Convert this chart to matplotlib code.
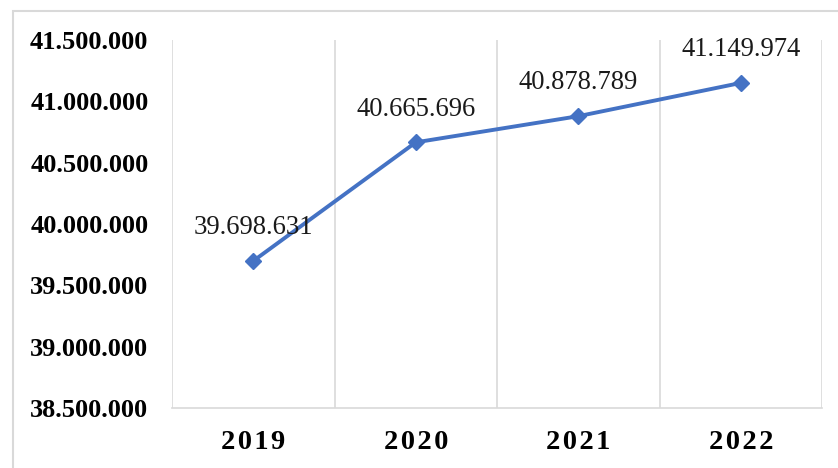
import matplotlib as mpl
mpl.use('Agg')
import matplotlib.pyplot as plt  # NOQA
from matplotlib.patches import Rectangle  # NOQA
from matplotlib.ticker import FuncFormatter  # NOQA

years = ['2019', '2020', '2021', '2022']
population = [39698631, 40665696, 40878789, 41149974]
y_ticks = [38500000, 39000000, 39500000, 40000000,
           40500000, 41000000, 41500000]


def dotted(v):
    return '{:,.0f}'.format(v).replace(',', '.')


plt.rcParams['font.family'] = ['Liberation Serif', 'DejaVu Serif']

fig = plt.figure(figsize=(8.38, 4.68), dpi=100)
ax = fig.add_axes([172 / 838, 1 - 408 / 468, 650 / 838, 368 / 468])

x = list(range(len(years)))
ax.plot(x, population, color='#4472C4', linewidth=2.8, marker='D',
        markersize=8.5, zorder=3)

for xi, v in zip(x, population):
    ax.annotate(dotted(v), (xi, v), xytext=(0, 24), textcoords='offset points',
                ha='center', va='center', fontsize=19.2, color='#1a1a1a')

ax.set_xlim(-0.5, len(years) - 0.5)
ax.set_ylim(y_ticks[0], y_ticks[-1])
ax.set_yticks(y_ticks)
ax.yaxis.set_major_formatter(FuncFormatter(lambda v, p: dotted(v)))
ax.set_xticks(x)
ax.set_xticklabels(['\u200a'.join(y) for y in years])

# vertical grid lines between categories
for b in range(len(years) + 1):
    ax.axvline(b - 0.5, color='#D9D9D9', linewidth=1.2, zorder=1)

for s in ['top', 'right', 'left']:
    ax.spines[s].set_visible(False)
ax.spines['bottom'].set_color('#D9D9D9')
ax.spines['bottom'].set_linewidth(1.2)

ax.tick_params(axis='y', length=0, labelsize=19, colors='black', pad=17)
ax.tick_params(axis='x', length=0, labelsize=20.5, colors='black', pad=16)
for lbl in ax.get_xticklabels() + ax.get_yticklabels():
    lbl.set_fontweight('bold')

# outer chart border (runs off the bottom and right of the image)
fig.add_artist(Rectangle((13 / 838, -0.05), 1.0, 1 - 11 / 468 + 0.05,
                         transform=fig.transFigure, fill=False,
                         edgecolor='#D9D9D9', linewidth=1.5))

fig.savefig('out.png', dpi=100)
